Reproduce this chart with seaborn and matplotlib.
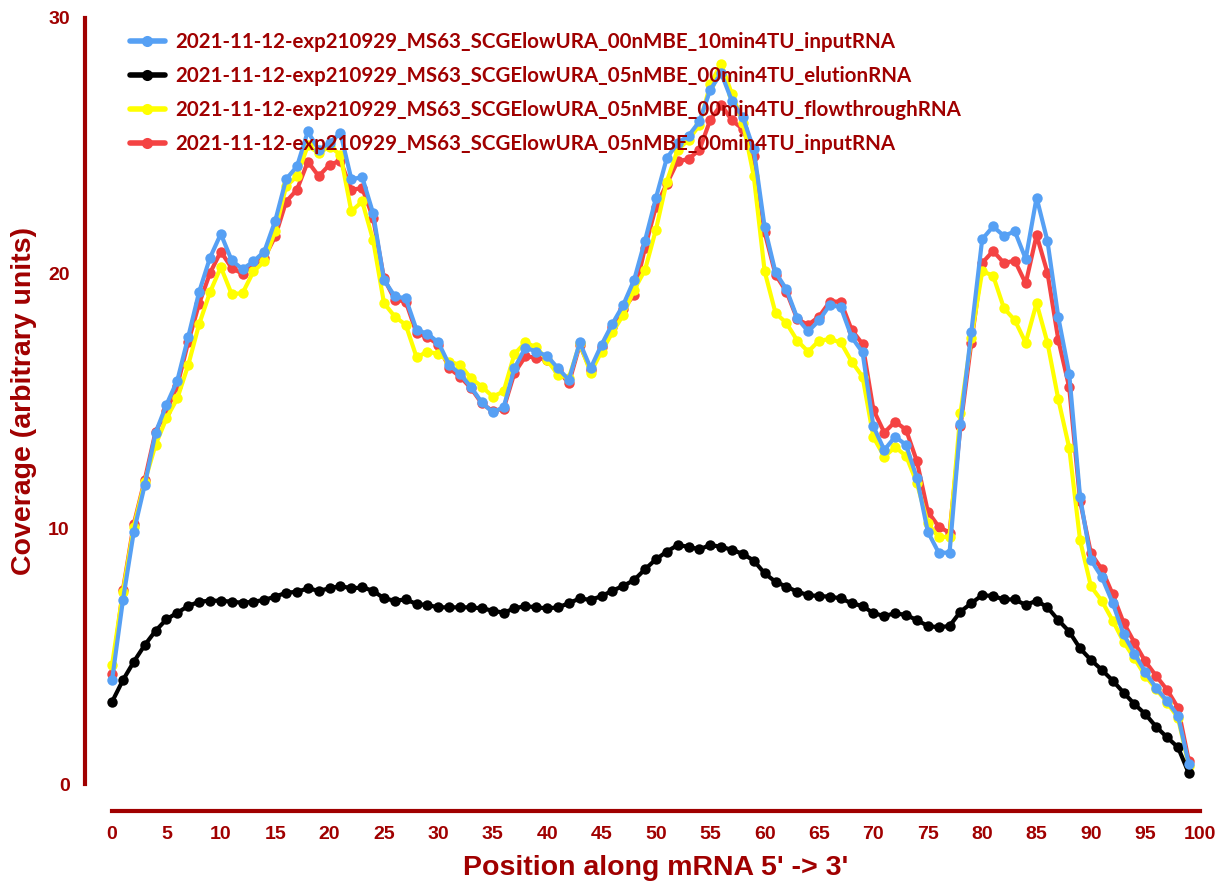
import numpy as np
import pandas as pd
import matplotlib
matplotlib.use("Agg")
import matplotlib.pyplot as plt
from matplotlib.lines import Line2D
import seaborn as sns

# position along mRNA (bins)
positions = list(range(100))

labels = [
    "2021-11-12-exp210929_MS63_SCGElowURA_00nMBE_10min4TU_inputRNA",
    "2021-11-12-exp210929_MS63_SCGElowURA_05nMBE_00min4TU_elutionRNA",
    "2021-11-12-exp210929_MS63_SCGElowURA_05nMBE_00min4TU_flowthroughRNA",
    "2021-11-12-exp210929_MS63_SCGElowURA_05nMBE_00min4TU_inputRNA",
]

input_10min = [
    4.07, 7.2, 9.88, 11.7, 13.75, 14.85, 15.8, 17.5, 19.26, 20.6,
    21.54, 20.5, 20.16, 20.46, 20.85, 22.05, 23.68, 24.18, 25.55, 24.83,
    25.1, 25.49, 23.68, 23.76, 22.35, 19.74, 19.09, 19.02, 17.78, 17.63,
    17.29, 16.41, 16.06, 15.54, 14.94, 14.55, 14.75, 16.28, 17.09, 16.93,
    16.76, 16.28, 15.82, 17.29, 16.28, 17.2, 18.02, 18.76, 19.74, 21.28,
    22.94, 24.5, 25.1, 25.38, 25.94, 27.18, 27.84, 26.73, 26.1, 24.85,
    21.8, 20.03, 19.37, 18.24, 17.72, 18.15, 18.76, 18.67, 17.5, 16.9,
    14.0, 13.08, 13.6, 13.28, 11.97, 9.88, 9.06, 9.06, 14.09, 17.7,
    21.33, 21.83, 21.46, 21.64, 20.56, 22.96, 21.26, 18.27, 16.07, 11.24,
    8.77, 8.1, 7.09, 5.86, 5.11, 4.38, 3.76, 3.25, 2.68, 0.78,
]

elution = [
    3.22, 4.07, 4.79, 5.44, 6.0, 6.45, 6.71, 6.97, 7.14, 7.18,
    7.18, 7.14, 7.1, 7.14, 7.21, 7.34, 7.49, 7.53, 7.66, 7.57,
    7.66, 7.76, 7.66, 7.7, 7.57, 7.27, 7.18, 7.23, 7.05, 7.01,
    6.92, 6.92, 6.92, 6.92, 6.88, 6.79, 6.71, 6.88, 6.97, 6.92,
    6.88, 6.92, 7.08, 7.27, 7.21, 7.36, 7.57, 7.76, 7.99, 8.41,
    8.8, 9.1, 9.36, 9.29, 9.19, 9.36, 9.29, 9.17, 9.01, 8.75,
    8.25, 7.92, 7.73, 7.53, 7.4, 7.36, 7.34, 7.27, 7.08, 6.97,
    6.69, 6.58, 6.69, 6.62, 6.42, 6.19, 6.14, 6.19, 6.75, 7.08,
    7.4, 7.36, 7.23, 7.23, 7.01, 7.18, 6.92, 6.42, 5.97, 5.31,
    4.86, 4.47, 4.05, 3.58, 3.13, 2.74, 2.24, 1.83, 1.44, 0.42,
]

flowthrough = [
    4.66, 7.53, 10.08, 11.84, 13.28, 14.32, 15.1, 16.4, 18.0, 19.25,
    20.24, 19.18, 19.22, 20.07, 20.46, 21.66, 23.4, 23.8, 25.0, 24.7,
    24.96, 24.64, 22.42, 22.81, 21.3, 18.83, 18.3, 17.98, 16.71, 16.93,
    16.84, 16.54, 16.41, 15.89, 15.56, 15.17, 15.37, 16.84, 17.29, 17.1,
    16.6, 16.02, 15.9, 17.25, 16.11, 16.93, 17.68, 18.37, 19.35, 20.13,
    21.7, 23.59, 24.83, 25.22, 25.8, 27.4, 28.2, 27.0, 25.9, 23.8,
    20.07, 18.44, 18.05, 17.36, 16.93, 17.36, 17.42, 17.29, 16.54, 15.95,
    13.58, 12.82, 13.19, 12.85, 11.78, 10.21, 9.66, 9.69, 14.52, 17.47,
    20.07, 19.91, 18.63, 18.16, 17.28, 18.83, 17.28, 15.06, 13.16, 9.54,
    7.74, 7.17, 6.4, 5.57, 4.92, 4.23, 3.72, 3.19, 2.6, 0.7,
]

input_00min = [
    4.3, 7.6, 10.18, 11.9, 13.8, 14.6, 15.6, 17.3, 18.8, 20.0,
    20.85, 20.2, 19.98, 20.33, 20.6, 21.44, 22.8, 23.27, 24.37, 23.8,
    24.25, 24.4, 23.27, 23.33, 22.16, 19.8, 18.96, 18.89, 17.65, 17.5,
    17.2, 16.28, 15.95, 15.5, 14.9, 14.6, 14.7, 16.1, 16.74, 16.7,
    16.6, 16.2, 15.69, 17.2, 16.2, 17.1, 17.9, 18.6, 19.15, 21.0,
    22.6, 23.5, 24.38, 24.47, 24.83, 26.0, 26.6, 25.98, 25.64, 24.6,
    21.6, 19.94, 19.28, 18.2, 17.98, 18.3, 18.89, 18.89, 17.78, 17.23,
    14.65, 13.76, 14.19, 13.87, 12.63, 10.67, 10.08, 9.84, 14.0, 17.28,
    20.4, 20.87, 20.4, 20.49, 19.6, 21.49, 20.02, 17.39, 15.53, 11.08,
    9.03, 8.41, 7.43, 6.32, 5.54, 4.8, 4.23, 3.69, 2.99, 0.9,
]

colors = ["#56A0F4", "#000000", "#FFFF00", "#F44343"]
dark_red = "#A00000"

df = pd.concat([
    pd.DataFrame({"pos": positions, "cov": vals, "sample": lab})
    for lab, vals in zip(labels, [input_10min, elution, flowthrough, input_00min])
])

sns.set_style("white")
plt.rcParams["font.family"] = ["Liberation Sans", "DejaVu Sans"]

fig = plt.figure(figsize=(12.18, 8.89), dpi=100)
ax = fig.add_axes([0.092, 0.118, 0.893, 0.862])

# draw red first, blue last (blue on top); legend keeps the original order
draw_order = [labels[3], labels[2], labels[1], labels[0]]
pal = dict(zip(labels, colors))
sns.lineplot(data=df, x="pos", y="cov", hue="sample", hue_order=draw_order,
             palette=pal, marker="o", markersize=7.5, markeredgewidth=0,
             linewidth=3, estimator=None, legend=False, ax=ax)
for ln in ax.lines:
    ln.set_clip_on(False)

ax.set_xlim(0, 100)
ax.set_ylim(0, 30)
ax.set_xticks(range(0, 101, 5))
ax.set_yticks([0, 10, 20, 30])

for side in ["top", "right"]:
    ax.spines[side].set_visible(False)
for side in ["left", "bottom"]:
    ax.spines[side].set_position(("outward", 19.5))
    ax.spines[side].set_linewidth(3)
    ax.spines[side].set_color(dark_red)
ax.tick_params(axis="both", direction="out", length=7, width=3, color=dark_red,
               labelcolor=dark_red, labelsize=14, pad=4)
for t in ax.get_xticklabels() + ax.get_yticklabels():
    t.set_fontweight("bold")

ax.set_xlabel("Position along mRNA 5' -> 3'", fontsize=20.5, fontweight="bold",
              color=dark_red, labelpad=8)
ax.set_ylabel("Coverage (arbitrary units)", fontsize=20.5, fontweight="bold",
              color=dark_red, labelpad=8)

handles = [Line2D([0], [0], color=c, lw=4, marker="o", markersize=8,
                  markeredgewidth=0) for c in colors]
leg = ax.legend(handles, labels, loc="upper left",
                bbox_to_anchor=(0.1, 0.973), bbox_transform=fig.transFigure,
                frameon=False, handlelength=1.7, handletextpad=0.5,
                labelspacing=0.68, borderaxespad=0,
                prop={"family": "Lato", "weight": "bold", "size": 14.8})
for t in leg.get_texts():
    t.set_color(dark_red)

fig.savefig("out.png", dpi=100)
